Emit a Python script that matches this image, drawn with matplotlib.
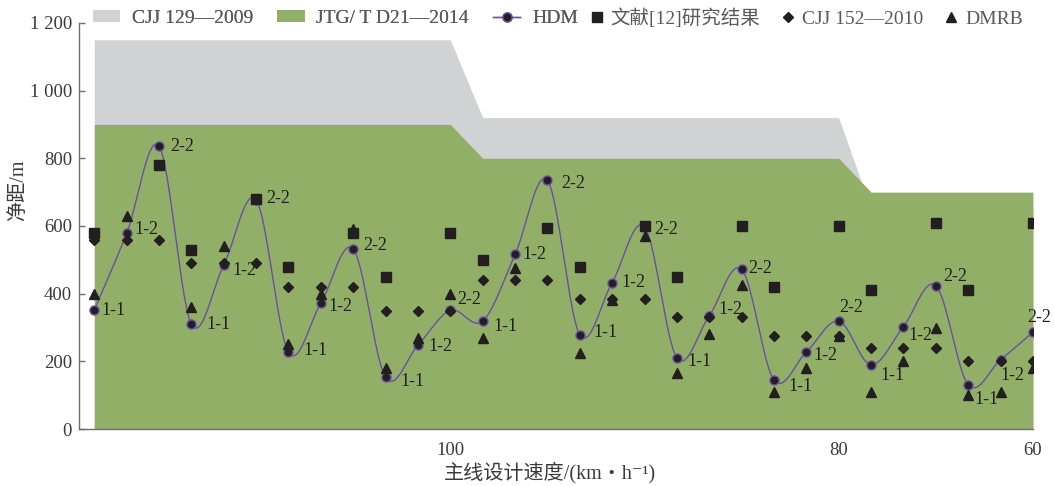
import numpy as np
import matplotlib
matplotlib.use("Agg")
import matplotlib.pyplot as plt
import matplotlib.transforms as mtransforms
from matplotlib.patches import Patch
from matplotlib.lines import Line2D

plt.rcParams["font.family"] = ["Liberation Serif", "Noto Sans CJK SC", "DejaVu Sans"]

GREY = "#D1D2D4"
GREEN = "#92AF68"
PURPLE = "#6A4FA3"
MARK = "#231F20"
TXT = "#3A3A3A"

# ---- data (index 0..29 along the mainline) ----
cjj129 = [1150] * 12 + [920] * 12 + [650] * 6
jtg_d21 = [900] * 12 + [800] * 12 + [700] * 6

hdm = [351, 578, 836, 310, 485, 678, 227, 372, 532, 153, 248, 351, 319, 516, 735,
       279, 433, 598, 210, 335, 472, 145, 228, 319, 190, 303, 424, 131, 205, 286]
hdm_labels = ["1-1", "1-2", "2-2"] * 10

ref12 = [580, np.nan, 780, 530, np.nan, 680, 480, np.nan, 580, 450, np.nan, 580,
         500, np.nan, 595, 480, np.nan, 600, 450, np.nan, 600, 420, np.nan, 600,
         410, np.nan, 610, 410, np.nan, 610]
cjj152 = [560, 560, 560, 490, 490, 490, 420, 420, 420, 350, 350, 350, 440, 440, 440,
          385, 385, 385, 330, 330, 330, 275, 275, 275, 240, 240, 240, 200, 200, 200]
dmrb = [400, 630, np.nan, 360, 540, np.nan, 250, 400, 590, 180, 270, 400, 270, 475, np.nan,
        225, 380, 570, 165, 280, 425, 110, 180, 275, 110, 200, 300, 100, 110, 180]

speed_ticks = [11, 23, 29]
speed_labels = ["100", "80", "60"]

# label offsets in pixels (style only)
label_off = [(7, 0), (8, 4), (11, 0), (15, 0), (9, -6), (10, 1), (15, 2), (8, -3),
             (10, 4), (15, -4), (10, -1), (7, 11), (11, -5), (7, 0), (14, -3),
             (14, 2), (9, 0), (10, -3), (11, -3), (9, 6), (7, 1), (14, -6), (7, -4),
             (1, 14), (9, -11), (5, -9), (7, 9), (6, -15), (0, -16), (-6, 15)]


def catmull_rom(x, y, n=20):
    x = np.asarray(x, float)
    y = np.asarray(y, float)
    px = np.concatenate([[2 * x[0] - x[1]], x, [2 * x[-1] - x[-2]]])
    py = np.concatenate([[2 * y[0] - y[1]], y, [2 * y[-1] - y[-2]]])
    xs, ys = [], []
    t = np.linspace(0, 1, n, endpoint=False)
    for i in range(1, len(px) - 2):
        for p, out in ((px, xs), (py, ys)):
            p0, p1, p2, p3 = p[i - 1], p[i], p[i + 1], p[i + 2]
            out.extend(0.5 * (2 * p1 + (-p0 + p2) * t
                              + (2 * p0 - 5 * p1 + 4 * p2 - p3) * t ** 2
                              + (-p0 + 3 * p1 - 3 * p2 + p3) * t ** 3))
    xs.append(x[-1])
    ys.append(y[-1])
    return np.array(xs), np.array(ys)


idx = np.arange(len(hdm))

fig = plt.figure(figsize=(10.54, 4.86), dpi=100)
ax = fig.add_axes([0.075, 0.117, 0.905, 0.836])

ax.fill_between(idx, 0, cjj129, color=GREY, lw=0, zorder=1)
ax.fill_between(idx, 0, jtg_d21, color=GREEN, lw=0, zorder=2)

sx, sy = catmull_rom(idx, hdm)
ax.plot(sx, sy, color=PURPLE, lw=1.0, zorder=3)
ax.plot(idx, hdm, ls="none", marker="o", ms=6.5, mfc=MARK, mec=PURPLE, mew=1.0, zorder=4)

ax.plot(idx, ref12, ls="none", marker="s", ms=7.5, color=MARK, zorder=5)
ax.plot(idx, cjj152, ls="none", marker="D", ms=5.5, color=MARK, zorder=5)
ax.plot(idx, dmrb, ls="none", marker="^", ms=7, color=MARK, zorder=5)

for i, (v, lab) in enumerate(zip(hdm, hdm_labels)):
    ax.annotate(lab, (i, v), xytext=label_off[i], textcoords="offset pixels",
                ha="left", va="center", fontsize=13, color="#231F20", zorder=6)

ax.set_xlim(-0.47, 29)
ax.set_ylim(0, 1200)
ax.set_yticks(range(0, 1201, 200))
ax.set_yticklabels(["0", "200", "400", "600", "800", "1 000", "1 200"])
ax.set_xticks(speed_ticks)
ax.set_xticklabels(speed_labels)
shift = mtransforms.ScaledTranslation(4 / 100, 0, fig.dpi_scale_trans)
for lab in ax.get_xticklabels():
    lab.set_transform(lab.get_transform() + shift)

for s in ("top", "right"):
    ax.spines[s].set_visible(False)
for s in ("left", "bottom"):
    ax.spines[s].set_color("#6D6E71")
    ax.spines[s].set_linewidth(1.0)
    ax.spines[s].set_zorder(7)

ax.tick_params(axis="y", direction="in", length=4.5, width=1, color="#6D6E71",
               labelsize=13.5, labelcolor=TXT, pad=5)
ax.tick_params(axis="x", length=0, labelsize=13.5, labelcolor=TXT, pad=9)

ax.set_ylabel("净距/m", fontsize=14.5, color=TXT)
ax.set_xlabel("主线设计速度/(km・h⁻¹)", fontsize=14.5, color=TXT)
ax.yaxis.set_label_coords(-0.053, 0.588)
ax.xaxis.set_label_coords(0.494, -0.08)

# legend: areas + HDM line, then the marker-only entries with short handles
leg_kw = dict(frameon=False, fontsize=14, labelcolor="#58595B", borderpad=0,
              borderaxespad=0, loc="center left")
h1 = [
    Patch(facecolor=GREY, edgecolor="none"),
    Patch(facecolor=GREEN, edgecolor="none"),
    Line2D([], [], color=PURPLE, lw=1.0, marker="o", ms=6.5, mfc=MARK, mec=PURPLE),
]
l1 = ["CJJ 129—2009", "JTG/ T D21—2014", "HDM"]
leg1 = fig.legend(h1, l1, bbox_to_anchor=(93 / 1054, 0.962), ncol=3,
                  handlelength=1.4, handleheight=0.55, handletextpad=0.6,
                  columnspacing=1.25, **leg_kw)
h2 = [
    Line2D([], [], ls="none", marker="s", ms=7, color=MARK),
    Line2D([], [], ls="none", marker="D", ms=5, color=MARK),
    Line2D([], [], ls="none", marker="^", ms=6.5, color=MARK),
]
l2 = ["文献[12]研究结果", "CJJ 152—2010", "DMRB"]
fig.legend(h2, l2, bbox_to_anchor=(590 / 1054, 0.962), ncol=3,
           handlelength=0.7, handletextpad=0.35, columnspacing=1.1, **leg_kw)
fig.add_artist(leg1)

fig.savefig("out.png", dpi=100)
